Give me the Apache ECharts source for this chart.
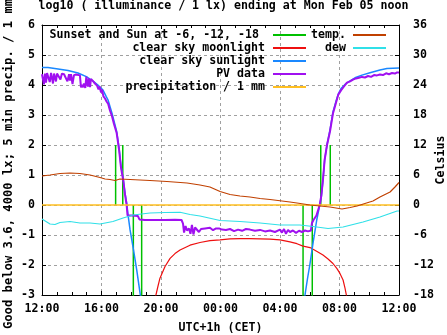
<!DOCTYPE html>
<html><head><meta charset="utf-8">
<script src="https://cdn.jsdelivr.net/npm/echarts@6/dist/echarts.min.js"></script>
<style>html,body{margin:0;padding:0;background:#fff}#c{width:447px;height:335px}</style>
</head><body><div id="c"></div>
<script>
// ---- tick labels ----
const xTickLabels = ['12:00','16:00','20:00','00:00','04:00','08:00','12:00'];
const leftTickLabels = ['-3','-2','-1','0','1','2','3','4','5','6'];
const rightTickLabels = ['-18','-12','-6','0','6','12','18','24','30','36'];

// ---- series names ----
const seriesNames = ['Sunset and Sun at -6, -12, -18','clear sky moonlight','clear sky sunlight','PV data','precipitation / 1 mm','temp.','dew'];

// ---- sunset / twilight markers (hours after 12:00) ----
const sunsetHours = [4.95, 5.43, 6.14, 6.70, 17.55, 18.17, 18.74, 19.38];
const sunsetEnds  = [2, 2, -3.5, -3.5, -3.5, -3.5, 2, 2];

// ---- clear sky moonlight (log10 lx) ----
const moonHours = [7.53,7.66,7.80,7.93,8.27,8.61,8.94,9.28,9.95,10.62,11.29,11.97,12.64,13.31,13.98,14.66,15.33,16.00,16.67,17.14,17.55,18.02,18.49,18.89,19.23,19.56,19.83,20.03,20.24,20.37,20.50];
const moonValues = [-3.30,-3.00,-2.70,-2.44,-2.05,-1.78,-1.62,-1.50,-1.34,-1.25,-1.19,-1.16,-1.13,-1.12,-1.12,-1.13,-1.14,-1.16,-1.23,-1.29,-1.37,-1.42,-1.55,-1.67,-1.80,-1.95,-2.12,-2.28,-2.50,-2.77,-3.10];

// ---- clear sky sunlight (log10 lx) ----
const sunHours = [0.00,0.40,1.08,1.75,2.42,2.98,3.43,3.76,4.10,4.32,4.44,4.71,4.84,5.02,5.18,5.31,5.47,5.58,5.69,5.80,5.92,6.12,6.37,6.59,6.72,
                  12.0,
                  17.61,17.68,17.85,18.02,18.22,18.47,18.67,18.78,18.89,19.00,19.16,19.36,19.56,19.76,19.92,20.10,20.37,20.71,21.04,21.51,22.05,22.72,23.19,24.00];
const sunValues = [4.58,4.58,4.53,4.48,4.40,4.28,4.13,4.00,3.83,3.61,3.50,3.05,2.80,2.45,1.90,1.30,0.83,0.40,0.07,-0.39,-0.83,-1.40,-2.17,-2.93,-3.40,
                   '-',
                   -3.30,-3.00,-2.45,-1.95,-1.27,-0.50,0.00,0.28,0.83,1.50,2.00,2.50,3.10,3.45,3.70,3.88,4.02,4.14,4.24,4.33,4.41,4.50,4.55,4.57];

// ---- PV data (log10 lx) ----
const pvHours = [0.00,0.07,0.13,0.20,0.27,0.34,0.44,0.52,0.61,0.74,0.81,0.94,1.01,1.14,1.24,1.34,1.48,1.61,1.71,1.82,1.88,1.95,2.05,2.15,2.29,2.42,2.55,2.62,2.69,2.76,2.82,2.91,2.98,3.09,3.16,3.23,3.29,3.43,3.56,3.70,3.80,3.87,3.97,4.03,4.13,4.24,4.34,4.44,4.57,4.71,4.84,5.02,5.18,5.31,5.47,5.58,5.69,5.75,6.05,6.45,6.55,6.92,7.60,8.27,8.94,9.38,9.48,9.55,9.65,9.75,9.88,9.98,10.08,10.18,10.29,10.42,10.55,10.69,10.82,10.96,11.09,11.29,11.50,11.70,11.90,12.10,12.37,12.64,12.91,13.18,13.45,13.71,13.98,14.32,14.66,14.99,15.33,15.66,16.00,16.13,16.27,16.40,16.54,16.67,16.87,17.08,17.28,17.48,17.68,17.88,18.08,18.15,18.25,18.35,18.45,18.67,18.78,18.89,19.00,19.16,19.36,19.56,19.76,19.92,20.10,20.30,20.50,20.71,20.91,21.11,21.31,21.51,21.71,21.92,22.12,22.32,22.52,22.72,22.92,23.13,23.33,23.53,23.73,23.87,24.00];
const pvValues = [4.36,4.40,4.02,4.38,4.08,4.40,4.36,4.10,4.40,4.05,4.38,4.12,4.38,4.35,4.18,4.38,4.36,4.33,4.12,4.36,4.15,4.36,4.03,4.33,4.35,4.30,4.32,3.92,4.00,3.92,4.05,3.90,4.28,3.95,4.22,3.93,4.20,4.13,4.05,3.98,3.85,3.95,3.75,3.85,3.62,3.55,3.45,3.38,3.15,2.95,2.70,2.40,1.85,1.25,0.80,0.35,0.00,-0.35,-0.35,-0.37,-0.48,-0.50,-0.50,-0.50,-0.49,-0.50,-0.62,-0.92,-0.70,-0.85,-0.78,-0.96,-0.66,-0.98,-0.75,-0.72,-0.90,-0.80,-0.86,-0.78,-0.82,-0.76,-0.84,-0.78,-0.78,-0.82,-0.83,-0.80,-0.87,-0.82,-0.86,-0.80,-0.82,-0.86,-0.83,-0.88,-0.85,-0.90,-0.82,-0.92,-0.80,-0.96,-0.83,-0.90,-0.85,-0.93,-0.86,-0.90,-0.85,-0.88,-0.85,-0.60,-0.50,-0.45,-0.35,0.00,0.32,0.85,1.50,2.00,2.45,3.05,3.40,3.68,3.82,3.95,4.08,4.12,4.18,4.22,4.24,4.27,4.25,4.30,4.27,4.33,4.32,4.35,4.33,4.39,4.36,4.40,4.38,4.42,4.42];

// ---- precipitation per 5 min / 1 mm ----
const precipHours = [0, 24];
const precipValues = [0, 0];

// ---- temperature and dew point (Celsius) ----
const tempHours = [0.00,0.54,1.21,1.88,2.55,3.23,3.90,4.24,4.57,4.91,5.24,5.92,6.59,7.26,8.40,9.75,10.62,11.29,11.97,12.64,13.31,13.98,14.66,15.33,16.00,16.67,17.14,18.02,18.69,19.36,20.17,20.71,21.18,21.71,22.25,22.72,23.40,23.73,24.00];
const tempValues = [5.8,6.0,6.3,6.4,6.3,6.0,5.5,5.2,5.1,4.9,5.2,5.1,5.0,4.9,4.7,4.4,4.0,3.6,2.7,2.1,1.8,1.6,1.3,1.1,0.85,0.6,0.4,0.0,-0.2,-0.4,-0.8,-0.5,-0.2,0.3,0.8,1.6,2.6,3.6,4.5];
const dewHours = [0.00,0.27,0.54,0.87,1.21,1.88,2.55,3.23,3.90,4.77,5.45,6.12,7.26,8.27,9.28,9.95,10.62,11.97,13.31,14.66,16.00,17.34,18.22,19.23,20.24,21.58,22.72,23.87,24.00];
const dewValues = [-2.8,-3.3,-3.8,-3.9,-3.5,-3.3,-3.6,-3.6,-3.8,-3.3,-2.6,-2.0,-1.6,-1.5,-1.45,-1.9,-2.2,-3.1,-3.3,-3.6,-4.0,-4.0,-4.3,-4.7,-4.4,-3.4,-2.4,-1.2,-1.2];

// ---- build ----
const FONT = '"DejaVu Sans Mono", monospace';
const FS = 11.6;
const colors = ['#00c000','#ee1010','#1a88ff','#a010f0','#ffbf20','#c04000','#30e0e8'];
function pairs(h, v) { return h.map((x, i) => [x, v[i]]); }
const sunsetData = [];
sunsetHours.forEach((h, i) => { sunsetData.push([h, 0], [h, sunsetEnds[i]], [h, '-']); });

const txt = { fontFamily: FONT, fontWeight: 'bold', fontSize: FS, color: '#000' };
const legendLayout = [
  { right: 141, top: 29, pad: 9 },
  { right: 141, top: 42, pad: 3 },
  { right: 141, top: 55, pad: 3 },
  { right: 141, top: 68, pad: 3 },
  { right: 141, top: 81, pad: 3 },
  { right: 61, top: 29, pad: 2 },
  { right: 61, top: 42, pad: 2 }
];

const chart = echarts.init(document.getElementById('c'), null, { renderer: 'canvas' });
const splitDash = { show: true, lineStyle: { color: '#a0a0a0', type: [3, 3], width: 1 } };
const axisBlack = { show: true, onZero: false, lineStyle: { color: '#000', width: 1 } };

chart.setOption({
  animation: false,
  backgroundColor: '#fff',
  title: { text: 'log10 ( illuminance / 1 lx) ending at Mon Feb 05 noon', left: 'center', top: 0, padding: 0, textStyle: txt },
  legend: seriesNames.map((n, i) => ({
    data: [n], orient: 'vertical', right: legendLayout[i].right, top: legendLayout[i].top,
    padding: 0, align: 'right', icon: 'rect', itemWidth: 33, itemHeight: 2, itemGap: 0, selectedMode: false,
    textStyle: Object.assign({}, txt, { padding: [0, legendLayout[i].pad, 0, 0] })
  })),
  grid: { left: 42, right: 48, top: 25, bottom: 40, containLabel: false, outerBoundsMode: 'none' },
  xAxis: [
    { type: 'value', position: 'bottom', min: 0, max: 24, interval: 4,
      axisLine: axisBlack,
      axisTick: { show: true, inside: true, length: 4, lineStyle: { color: '#000' } },
      minorTick: { show: true, splitNumber: 4, length: 3, lineStyle: { color: '#000' } },
      axisLabel: Object.assign({}, txt, { margin: 8, formatter: v => xTickLabels[Math.round(v / 4)] }),
      splitLine: splitDash,
      name: 'UTC+1h (CET)', nameLocation: 'middle', nameGap: 27, nameMoveOverlap: false, nameTextStyle: txt },
    { type: 'value', position: 'top', min: 0, max: 24, interval: 4,
      axisLine: axisBlack,
      axisTick: { show: true, inside: true, length: 4, lineStyle: { color: '#000' } },
      minorTick: { show: true, splitNumber: 4, length: 3, lineStyle: { color: '#000' } },
      axisLabel: { show: false }, splitLine: { show: false } }
  ],
  yAxis: [
    { type: 'value', position: 'left', min: -3, max: 6, interval: 1,
      axisLine: axisBlack,
      axisTick: { show: true, inside: true, length: 4, lineStyle: { color: '#000' } },
      axisLabel: Object.assign({}, txt, { margin: 7, formatter: v => leftTickLabels[Math.round(v + 3)] }),
      splitLine: splitDash,
      name: 'Good below 3.6, 4000 lx; 5 min precip. / 1 mm', nameLocation: 'middle', nameRotate: 90, nameGap: 27,
      nameMoveOverlap: false,
      nameTextStyle: Object.assign({}, txt, { fontSize: 12.2, padding: [0, 8, 0, 0] }) },
    { type: 'value', position: 'right', min: -18, max: 36, interval: 6,
      axisLine: axisBlack,
      axisTick: { show: true, inside: true, length: 4, lineStyle: { color: '#000' } },
      axisLabel: Object.assign({}, txt, { margin: 14, formatter: v => rightTickLabels[Math.round((v + 18) / 6)] }),
      splitLine: { show: false },
      name: 'Celsius', nameLocation: 'middle', nameRotate: 90, nameGap: 36, nameMoveOverlap: false, nameTextStyle: txt }
  ],
  series: [
    { name: seriesNames[0], type: 'line', data: sunsetData, symbol: 'none', connectNulls: false,
      lineStyle: { color: colors[0], width: 1.5 }, itemStyle: { color: colors[0] } },
    { name: seriesNames[1], type: 'line', data: pairs(moonHours, moonValues), symbol: 'none',
      lineStyle: { color: colors[1], width: 1.2 }, itemStyle: { color: colors[1] } },
    { name: seriesNames[2], type: 'line', data: pairs(sunHours, sunValues), symbol: 'none', connectNulls: false,
      lineStyle: { color: colors[2], width: 1.5 }, itemStyle: { color: colors[2] } },
    { name: seriesNames[3], type: 'line', data: pairs(pvHours, pvValues), symbol: 'none',
      lineStyle: { color: colors[3], width: 2 }, itemStyle: { color: colors[3] } },
    { name: seriesNames[4], type: 'line', data: pairs(precipHours, precipValues), symbol: 'none',
      lineStyle: { color: colors[4], width: 1.5 }, itemStyle: { color: colors[4] } },
    { name: seriesNames[5], type: 'line', yAxisIndex: 1, data: pairs(tempHours, tempValues), symbol: 'none',
      lineStyle: { color: colors[5], width: 1.2 }, itemStyle: { color: colors[5] } },
    { name: seriesNames[6], type: 'line', yAxisIndex: 1, data: pairs(dewHours, dewValues), symbol: 'none',
      lineStyle: { color: colors[6], width: 1.2 }, itemStyle: { color: colors[6] } }
  ]
});
</script>
</body></html>
